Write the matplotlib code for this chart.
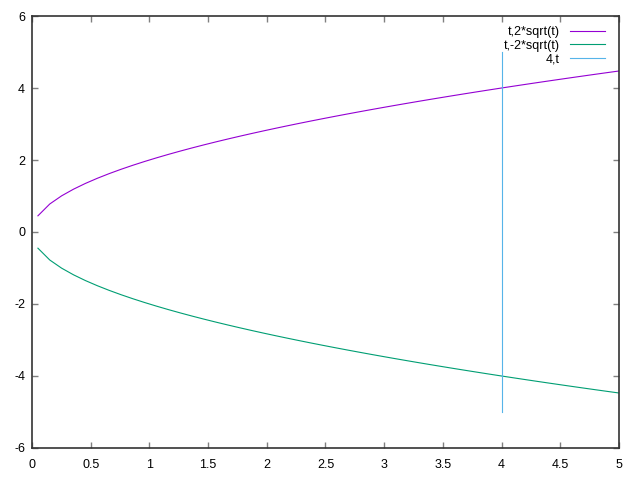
import numpy as np
import matplotlib
matplotlib.use("Agg")
import matplotlib.pyplot as plt

# gnuplot parametric plot, t in [-5, 5], 100 samples
t_min, t_max, n_samples = -5, 5, 100
labels = ["t,2*sqrt(t)", "t,-2*sqrt(t)", "4,t"]
colors = ["#9400d3", "#009e73", "#56b4e9"]
x_ticks = [0, 0.5, 1, 1.5, 2, 2.5, 3, 3.5, 4, 4.5, 5]
x_ticklabels = ["0", "0.5", "1", "1.5", "2", "2.5", "3", "3.5", "4", "4.5", "5"]
y_ticks = [-6, -4, -2, 0, 2, 4, 6]

t = np.linspace(t_min, t_max, n_samples)
tp = t[t > 0]

plt.rcParams["font.family"] = ["Liberation Sans", "DejaVu Sans"]
plt.rcParams["axes.unicode_minus"] = False
fig = plt.figure(figsize=(6.4, 4.78), dpi=100)
ax = fig.add_axes([0.05, 0.0628, 0.917, 0.9037])

ax.plot(tp, 2 * np.sqrt(tp), color=colors[0], lw=0.8, label=labels[0])
ax.plot(tp, -2 * np.sqrt(tp), color=colors[1], lw=0.8, label=labels[1])
ax.plot(np.full_like(t, 4), t, color=colors[2], lw=0.8, label=labels[2])

ax.set_xlim(0, 5)
ax.set_ylim(-6, 6)
ax.set_xticks(x_ticks)
ax.set_xticklabels(x_ticklabels)
ax.set_yticks(y_ticks)
ax.tick_params(direction="in", length=4, width=1, color="#808080",
               top=True, right=True, labelsize=9, pad=8, labelcolor="black")
ax.tick_params(axis="y", pad=5)
for s in ax.spines.values():
    s.set_color("#333333")
    s.set_linewidth(1.2)

leg = ax.legend(loc="upper right", bbox_to_anchor=(605 / 640, 1 - 26 / 478),
                bbox_transform=fig.transFigure, borderaxespad=0, borderpad=0,
                frameon=False, markerfirst=False,
                fontsize=9, handlelength=2.8, handletextpad=0.8,
                labelspacing=0.12)
for txt in leg.get_texts():
    txt.set_ha("right")
leg._legend_box.align = "right"

fig.savefig("out.png", dpi=100)
